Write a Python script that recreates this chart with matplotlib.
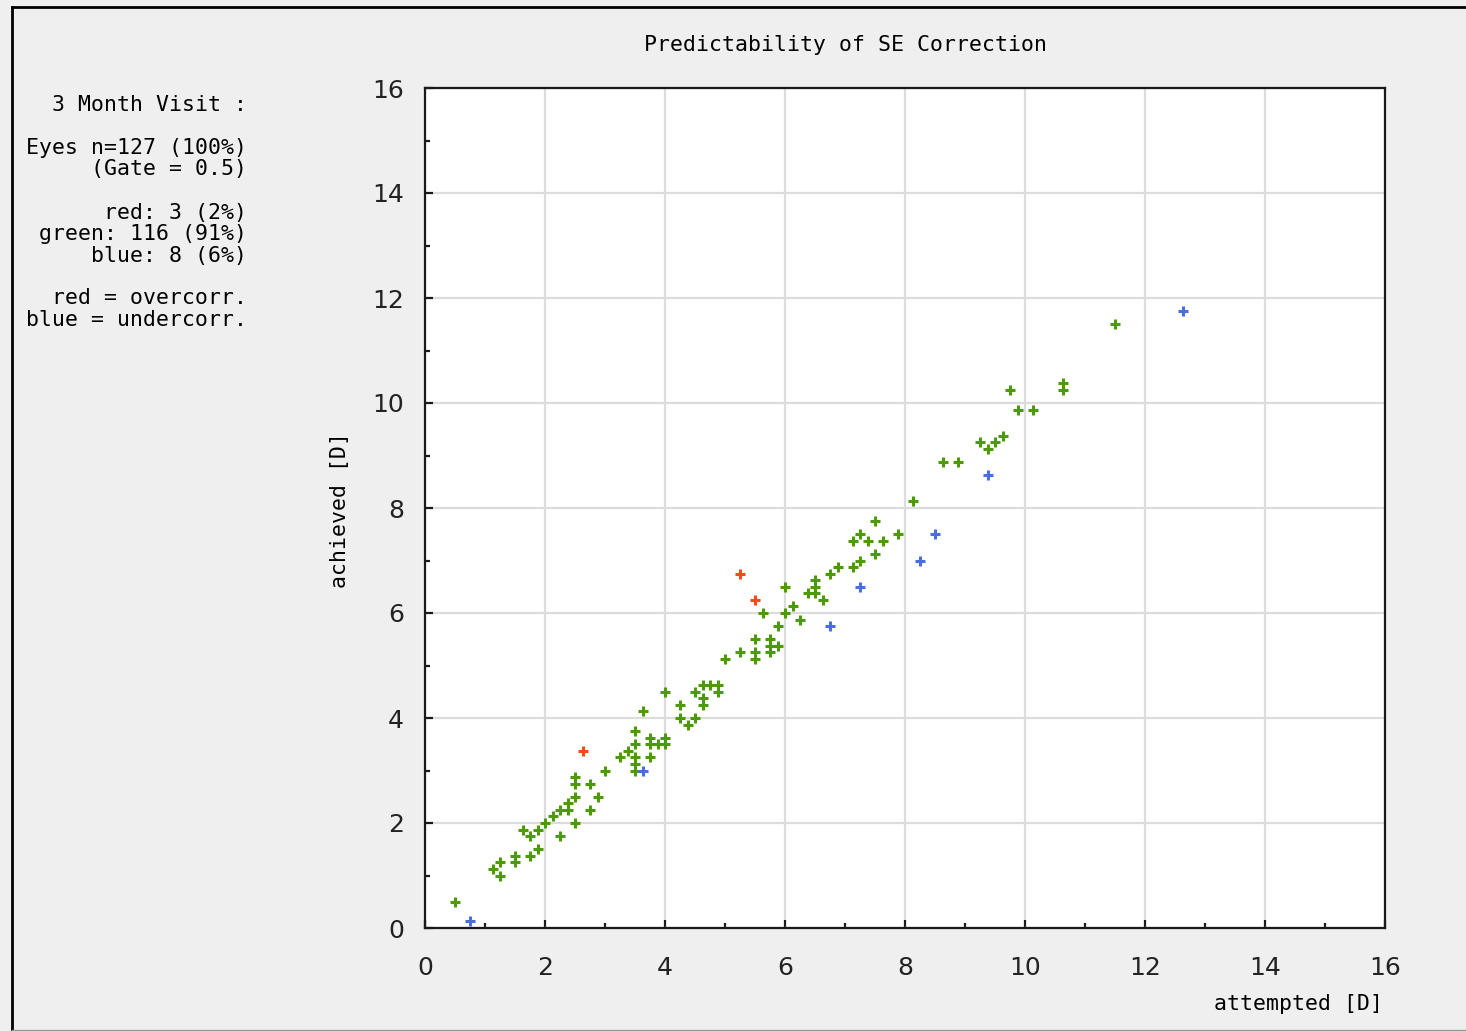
import matplotlib.pyplot as plt
from matplotlib.lines import Line2D

# attempted / achieved SE correction [D]
green_x = [0.5, 1.125, 1.25, 1.25, 1.5, 1.5, 1.625, 1.75, 1.75, 1.875, 1.875, 2.0, 2.125, 2.25,
           2.375, 2.375, 2.25, 2.5, 2.5, 2.5, 2.5, 2.75, 2.75, 2.875, 3.0, 3.25, 3.375, 3.5, 3.5,
           3.5, 3.5, 3.5, 3.625, 3.75, 3.75, 3.75, 3.875, 4.0, 4.0, 4.0, 4.25, 4.25, 4.375, 4.5,
           4.5, 4.625, 4.625, 4.625, 4.75, 4.875, 4.875, 5.0, 5.25, 5.5, 5.5, 5.5, 5.75, 5.75,
           5.75, 5.875, 5.875, 5.625, 6.0, 6.0, 6.125, 6.25, 6.375, 6.5, 6.5, 6.5, 6.625, 6.75,
           6.875, 7.125, 7.125, 7.25, 7.25, 7.375, 7.5, 7.5, 7.625, 7.875, 8.125, 8.625, 8.875,
           9.25, 9.375, 9.5, 9.625, 9.875, 10.125, 9.75, 10.625, 10.625, 11.5]
green_y = [0.5, 1.125, 1.25, 1.0, 1.375, 1.25, 1.875, 1.75, 1.375, 1.875, 1.5, 2.0, 2.125, 2.25,
           2.375, 2.25, 1.75, 2.875, 2.75, 2.5, 2.0, 2.75, 2.25, 2.5, 3.0, 3.25, 3.375, 3.75, 3.5,
           3.25, 3.125, 3.0, 4.125, 3.625, 3.5, 3.25, 3.5, 3.625, 3.5, 4.5, 4.25, 4.0, 3.875, 4.0,
           4.5, 4.625, 4.375, 4.25, 4.625, 4.625, 4.5, 5.125, 5.25, 5.5, 5.25, 5.125, 5.5, 5.375,
           5.25, 5.375, 5.75, 6.0, 6.0, 6.5, 6.125, 5.875, 6.375, 6.625, 6.5, 6.375, 6.25, 6.75,
           6.875, 7.375, 6.875, 7.5, 7.0, 7.375, 7.75, 7.125, 7.375, 7.5, 8.125, 8.875, 8.875,
           9.25, 9.125, 9.25, 9.375, 9.875, 9.875, 10.25, 10.375, 10.25, 11.5]
red_x = [2.625, 5.25, 5.5]
red_y = [3.375, 6.75, 6.25]
blue_x = [0.75, 3.625, 6.75, 7.25, 8.25, 8.5, 9.375, 12.625]
blue_y = [0.125, 3.0, 5.75, 6.5, 7.0, 7.5, 8.625, 11.75]

info_lines = ["3 Month Visit :", "", "Eyes n=127 (100%)", "(Gate = 0.5)", "",
              "red: 3 (2%)", "green: 116 (91%)", "blue: 8 (6%)", "",
              "red = overcorr.", "blue = undercorr."]

mono = "DejaVu Sans Mono"
W, H = 1466, 1031

fig = plt.figure(figsize=(14.66, 10.31), dpi=100, facecolor="#efefef")
ax = fig.add_axes([425 / W, 1 - 928 / H, 960 / W, 840 / H])

for xs, ys, c in [(green_x, green_y, "#4b9a06"), (red_x, red_y, "#f84a14"), (blue_x, blue_y, "#4a6ee0")]:
    ax.plot(xs, ys, linestyle="none", marker="+", markersize=6.5, markeredgewidth=2.2,
            color=c, zorder=3)

ax.set_xlim(0, 16)
ax.set_ylim(0, 16)
ax.set_xticks(range(0, 17, 2))
ax.set_yticks(range(0, 17, 2))
ax.set_xticks(range(1, 16, 2), minor=True)
ax.set_yticks(range(1, 16, 2), minor=True)
ax.grid(True, which="major", color="#dcdcdc", linewidth=1.6, zorder=0)
ax.set_axisbelow(True)
for s in ax.spines.values():
    s.set_linewidth(1.6)
    s.set_color("#1a1a1a")
ax.tick_params(which="major", direction="in", length=6, width=1.6, labelsize=18, color="#1a1a1a")
ax.tick_params(which="minor", direction="in", length=3.5, width=1.6, color="#1a1a1a")
ax.tick_params(axis="x", which="major", pad=20)
ax.tick_params(axis="y", which="major", pad=15)
for lab in ax.get_xticklabels() + ax.get_yticklabels():
    lab.set_color("#222222")

fs = 15.5
fig.text(845 / W, 1 - 45 / H, "Predictability of SE Correction", family=mono,
         fontsize=fs, ha="center", va="center")
fig.text(340 / W, 1 - 510 / H, "achieved [D]", family=mono, fontsize=fs,
         rotation=90, ha="center", va="center")
fig.text(1383 / W, 1 - 1004 / H, "attempted [D]", family=mono, fontsize=fs,
         ha="right", va="center")

y0 = 105
for i, line in enumerate(info_lines):
    if line:
        fig.text(247 / W, 1 - (y0 + i * 21.5) / H, line, family=mono, fontsize=fs,
                 ha="right", va="center")

# screenshot frame
fig.add_artist(Line2D([12 / W, 1], [1 - 7 / H, 1 - 7 / H], color="black", linewidth=2))
fig.add_artist(Line2D([12 / W, 12 / W], [0, 1 - 7 / H], color="black", linewidth=2))
fig.add_artist(Line2D([12 / W, 1], [1.5 / H, 1.5 / H], color="#999999", linewidth=1))

fig.savefig("out.png", dpi=100, facecolor=fig.get_facecolor())
